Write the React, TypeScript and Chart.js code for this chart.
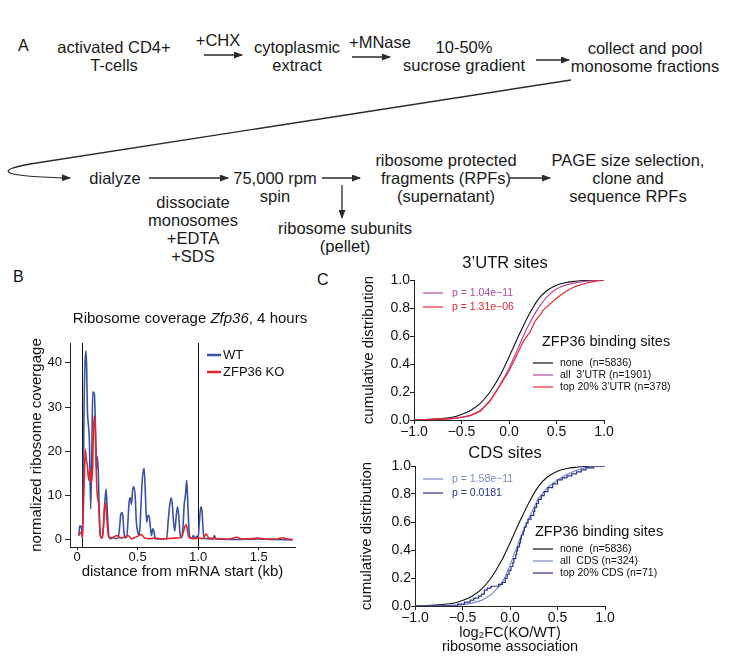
import React, { useEffect, useRef } from "react";
import { Chart, registerables } from "chart.js";

Chart.register(...registerables);

const FONT = '"Liberation Sans", Arial, Helvetica, sans-serif';
Chart.defaults.font.family = FONT;
Chart.defaults.color = "#111";

// ---------------- Panel B data ----------------
const wtKb = [0.015, 0.022, 0.03, 0.038, 0.045, 0.05, 0.058, 0.066, 0.074, 0.08, 0.085, 0.094, 0.102, 0.113, 0.122, 0.13, 0.143, 0.155, 0.162, 0.169, 0.177, 0.185, 0.19, 0.2, 0.208, 0.218, 0.231, 0.24, 0.251, 0.262, 0.275, 0.3, 0.32, 0.34, 0.352, 0.36, 0.369, 0.378, 0.387, 0.397, 0.41, 0.42, 0.43, 0.44, 0.45, 0.458, 0.468, 0.48, 0.49, 0.5, 0.51, 0.52, 0.53, 0.54, 0.554, 0.565, 0.575, 0.585, 0.595, 0.605, 0.615, 0.625, 0.635, 0.645, 0.66, 0.7, 0.74, 0.752, 0.762, 0.777, 0.787, 0.797, 0.807, 0.818, 0.83, 0.84, 0.85, 0.865, 0.875, 0.885, 0.895, 0.906, 0.915, 0.925, 0.935, 0.95, 0.96, 0.975, 0.99, 1.0, 1.01, 1.022, 1.032, 1.042, 1.055, 1.1, 1.125, 1.135, 1.145, 1.3, 1.5, 1.6, 1.78];
const wtCov = [1, 3, 3.2, 2.5, 0.5, 8, 30, 40, 42.7, 38.6, 30, 26, 22.6, 7, 20, 33.5, 33, 22.6, 16, 18.8, 14, 5, 1.5, 0.5, 0.5, 3, 9, 11.5, 6, 1, 0.3, 0.5, 0.3, 0.5, 3, 5.5, 6.2, 5.5, 2, 0.5, 0.5, 4, 8.5, 9.5, 8, 11, 12, 10, 4, 2, 1, 3, 9, 14, 16.2, 10, 4, 5.5, 5.5, 3, 1, 2.5, 2, 0.3, 0.2, 0.2, 0.3, 4, 7, 9.5, 8, 4, 2, 5, 7.5, 5.5, 1.5, 0.5, 3, 8, 10, 13.5, 8, 2, 0.5, 0.5, 1, 0.4, 0.8, 0.5, 4, 7.5, 6.5, 2, 0.3, 0.2, 0.2, 1, 0.2, 0.1, 0.2, 0.1, 0];
const koKb = [0.015, 0.025, 0.035, 0.045, 0.05, 0.058, 0.069, 0.077, 0.085, 0.096, 0.107, 0.118, 0.129, 0.14, 0.148, 0.16, 0.168, 0.179, 0.19, 0.2, 0.21, 0.218, 0.231, 0.24, 0.251, 0.26, 0.28, 0.3, 0.33, 0.36, 0.4, 0.42, 0.45, 0.5, 0.53, 0.56, 0.6, 0.65, 0.7, 0.75, 0.8, 0.85, 0.87, 0.89, 0.9, 0.91, 0.92, 0.95, 1.0, 1.04, 1.065, 1.09, 1.15, 1.25, 1.32, 1.36, 1.45, 1.49, 1.55, 1.65, 1.7, 1.74, 1.78];
const koCov = [1.0, 1.5, 1.8, 0.5, 5, 12, 20.5, 18, 17, 13.5, 16, 13, 16.5, 28, 27, 14.5, 10, 8, 2, 0.5, 0.5, 3, 8.5, 7, 3, 0.8, 0.5, 0.6, 1.0, 0.4, 0.7, 1.0, 0.3, 0.8, 1.2, 0.4, 0.3, 0.4, 0.2, 0.3, 0.4, 0.5, 1.0, 3.0, 3.5, 2.5, 0.8, 0.3, 0.4, 0.3, 1.3, 0.4, 0.3, 0.2, 0.6, 0.2, 0.3, 0.4, 0.2, 0.2, 0.5, 0.2, 0.1];
const bYTicks = [0, 10, 20, 30, 40];
const bXTicks = [0, 0.5, 1.0, 1.5];
const bXLabels = ["0", "0.5", "1.0", "1.5"];
const bMarkers = [0.04, 1.0];
const bSeriesNames = ["WT", "ZFP36 KO"];

// ---------------- Panel C data ----------------
const noneX = [-1.0, -0.8, -0.6, -0.5, -0.4, -0.3, -0.2, -0.1, 0.0, 0.1, 0.2, 0.3, 0.4, 0.5, 0.6, 0.7, 0.8, 1.0];
const noneY = [0.0, 0.007, 0.02, 0.04, 0.07, 0.12, 0.2, 0.31, 0.45, 0.6, 0.74, 0.855, 0.925, 0.963, 0.982, 0.991, 0.996, 1.0];
const utrAllX = [-1.0, -0.8, -0.6, -0.5, -0.4, -0.3, -0.2, -0.1, 0.0, 0.1, 0.2, 0.3, 0.4, 0.5, 0.6, 0.7, 0.8, 1.0];
const utrAllY = [0.0, 0.004, 0.01, 0.02, 0.035, 0.07, 0.14, 0.245, 0.37, 0.52, 0.67, 0.79, 0.88, 0.935, 0.965, 0.98, 0.99, 1.0];
const utrTopX = [-1.0, -0.8, -0.6, -0.5, -0.4, -0.3, -0.2, -0.1, 0.0, 0.05, 0.1, 0.15, 0.2, 0.22, 0.25, 0.27, 0.3, 0.33, 0.36, 0.4, 0.5, 0.6, 0.7, 0.8, 0.9, 1.0];
const utrTopY = [0.0, 0.004, 0.01, 0.018, 0.033, 0.065, 0.135, 0.24, 0.35, 0.42, 0.49, 0.56, 0.61, 0.625, 0.67, 0.70, 0.73, 0.75, 0.785, 0.81, 0.87, 0.92, 0.955, 0.975, 0.99, 1.0];
const cdsAllX = [-1.0, -0.7, -0.5, -0.4, -0.3, -0.2, -0.1, -0.05, 0.0, 0.05, 0.1, 0.15, 0.2, 0.25, 0.3, 0.35, 0.4, 0.5, 0.6, 0.7, 0.8, 0.9, 1.0];
const cdsAllY = [0.0, 0.002, 0.01, 0.02, 0.04, 0.08, 0.15, 0.21, 0.29, 0.38, 0.47, 0.55, 0.63, 0.70, 0.77, 0.81, 0.85, 0.9, 0.94, 0.97, 0.99, 0.997, 1.0];
const cdsTopX = [-1.0, -0.55, -0.48, -0.42, -0.38, -0.33, -0.3, -0.27, -0.24, -0.2, -0.12, -0.08, -0.05, -0.03, -0.01, 0.01, 0.03, 0.04, 0.06, 0.07, 0.08, 0.1, 0.11, 0.12, 0.14, 0.15, 0.17, 0.19, 0.22, 0.25, 0.26, 0.28, 0.3, 0.33, 0.36, 0.4, 0.45, 0.5, 0.55, 0.6, 0.65, 0.7, 0.75, 0.8, 0.88, 1.0];
const cdsTopY = [0, 0.014, 0.028, 0.042, 0.056, 0.07, 0.085, 0.113, 0.127, 0.141, 0.155, 0.169, 0.197, 0.225, 0.254, 0.282, 0.31, 0.338, 0.366, 0.394, 0.423, 0.451, 0.479, 0.507, 0.535, 0.563, 0.592, 0.62, 0.648, 0.676, 0.704, 0.732, 0.761, 0.789, 0.817, 0.845, 0.873, 0.901, 0.915, 0.93, 0.944, 0.958, 0.972, 0.986, 1.0, 1.0];
const cXTicks = [-1, -0.5, 0, 0.5, 1];
const cXLabels = ["\u22121.0", "\u22120.5", "0.0", "0.5", "1.0"];
const cYTicks = [0, 0.2, 0.4, 0.6, 0.8, 1.0];
const cYLabels = ["0.0", "0.2", "0.4", "0.6", "0.8", "1.0"];
const utrPvals = ["p = 1.04e\u221211", "p = 1.31e\u221206"];
const cdsPvals = ["p = 1.58e\u221211", "p = 0.0181"];
const utrLegend = ["none  (n=5836)", "all  3\u2019UTR (n=1901)", "top 20% 3\u2019UTR (n=378)"];
const cdsLegend = ["none  (n=5836)", "all  CDS (n=324)", "top 20% CDS (n=71)"];

// ---------------- colours ----------------
const WT_BLUE = "#3a52a6";
const KO_RED = "#e2262d";
const BLACK = "#111111";
const UTR_ALL = "#b24a9c";
const UTR_TOP = "#e8252e";
const CDS_ALL = "#7887d4";
const CDS_TOP = "#28338b";

const pts = (xs: number[], ys: number[]) => xs.map((x, i) => ({ x, y: ys[i] }));

const overlayPlugin = {
  id: "overlay",
  beforeDatasetsDraw(chart: any, _a: any, opts: any) {
    const ctx = chart.ctx;
    const { top, bottom } = chart.chartArea;
    ctx.save();
    (opts.vlines || []).forEach((v: number) => {
      const x = Math.round(chart.scales.x.getPixelForValue(v)) + 0.5;
      ctx.strokeStyle = "#111";
      ctx.lineWidth = 1;
      ctx.beginPath();
      ctx.moveTo(x, top);
      ctx.lineTo(x, bottom);
      ctx.stroke();
    });
    ctx.restore();
  },
  afterDatasetsDraw(chart: any, _a: any, opts: any) {
    const ctx = chart.ctx;
    ctx.save();
    (opts.items || []).forEach((it: any) => {
      if (it.type === "line") {
        ctx.strokeStyle = it.color;
        ctx.lineWidth = it.width || 1;
        ctx.beginPath();
        ctx.moveTo(it.x1, it.y);
        ctx.lineTo(it.x2, it.y);
        ctx.stroke();
      } else if (it.type === "text") {
        ctx.font = it.font;
        ctx.fillStyle = it.color || "#111";
        ctx.textAlign = it.align || "left";
        ctx.textBaseline = "middle";
        ctx.fillText(it.text, it.x, it.y);
      } else if (it.type === "rich") {
        let total = 0;
        it.parts.forEach((p: any) => {
          ctx.font = p.font;
          total += ctx.measureText(p.text).width;
        });
        let x = it.x - total / 2;
        ctx.textAlign = "left";
        ctx.textBaseline = "middle";
        ctx.fillStyle = it.color || "#111";
        it.parts.forEach((p: any) => {
          ctx.font = p.font;
          ctx.fillText(p.text, x, it.y);
          x += ctx.measureText(p.text).width;
        });
      }
    });
    ctx.restore();
  },
};

function axisCommon(tickLength: number, padding: number, fontSize: number) {
  return {
    grid: { display: true, drawOnChartArea: false, drawTicks: true, tickLength, color: "#222", tickColor: "#222", lineWidth: 1 },
    border: { display: true, color: "#222", width: 1 },
    ticks: { autoSkip: false, maxRotation: 0, padding, font: { size: fontSize }, color: "#111" },
  };
}

function bConfig(): any {
  const xc = axisCommon(3, 0, 13);
  const yc = axisCommon(5, 3, 13);
  return {
    type: "line",
    data: {
      datasets: [
        { label: bSeriesNames[1], data: pts(koKb, koCov), borderColor: KO_RED, borderWidth: 1.6, pointRadius: 0, cubicInterpolationMode: "monotone", order: 1 },
        { label: bSeriesNames[0], data: pts(wtKb, wtCov), borderColor: WT_BLUE, borderWidth: 1.6, pointRadius: 0, cubicInterpolationMode: "monotone", order: 2 },
      ],
    },
    options: {
      responsive: false,
      animation: false,
      events: [],
      layout: { padding: { left: 24, top: 53, right: 15, bottom: 5 } },
      plugins: {
        legend: { display: false },
        tooltip: { enabled: false },
        overlay: {
          vlines: bMarkers,
          items: [
            { type: "rich", x: 190, y: 29, parts: [
              { text: "Ribosome coverage ", font: `15px ${FONT}` },
              { text: "Zfp36", font: `italic 15px ${FONT}` },
              { text: ", 4 hours", font: `15px ${FONT}` },
            ] },
            { type: "line", x1: 207, x2: 221, y: 65, color: WT_BLUE, width: 2.5 },
            { type: "text", x: 223, y: 65, text: bSeriesNames[0], font: `13px ${FONT}` },
            { type: "line", x1: 207, x2: 221, y: 82, color: KO_RED, width: 2.5 },
            { type: "text", x: 223, y: 82, text: bSeriesNames[1], font: `13px ${FONT}` },
          ],
        },
      },
      scales: {
        x: {
          type: "linear", min: -0.058, max: 1.8,
          afterBuildTicks: (s: any) => { s.ticks = bXTicks.map((v) => ({ value: v })); },
          afterFit: (s: any) => { s.height = 38; },
          ...xc,
          ticks: { ...xc.ticks, callback: (_v: any, i: number) => bXLabels[i] },
          title: { display: true, text: "distance from mRNA start (kb)", font: { size: 15 }, color: "#111", padding: { top: 0, bottom: 4 } },
        },
        y: {
          type: "linear", min: -1.6, max: 44.5,
          afterBuildTicks: (s: any) => { s.ticks = bYTicks.map((v) => ({ value: v })); },
          afterFit: (s: any) => { s.width = 46; },
          ...yc,
          ticks: { ...yc.ticks, callback: (v: any) => String(v) },
          title: { display: true, text: "normalized ribosome covergage", font: { size: 15 }, color: "#111", padding: { top: 4, bottom: 0 } },
        },
      },
    },
    plugins: [overlayPlugin],
  };
}

function cConfig(kind: "utr" | "cds"): any {
  const isUtr = kind === "utr";
  const xc = axisCommon(4, 0, 14);
  const yc = axisCommon(4, 0, 14);
  const allColor = isUtr ? UTR_ALL : CDS_ALL;
  const topColor = isUtr ? UTR_TOP : CDS_TOP;
  const pv = isUtr ? utrPvals : cdsPvals;
  const lg = isUtr ? utrLegend : cdsLegend;
  const title = isUtr ? "3\u2019UTR sites" : "CDS sites";
  const titleY = isUtr ? 23 : 13;
  const pY = isUtr ? [53, 67] : [39, 53];
  const headX = isUtr ? 222 : 215;
  const headY = isUtr ? 102 : 92;
  const entY = isUtr ? [123, 135, 147] : [109, 121, 133];
  const colors = [BLACK, allColor, topColor];
  const items: any[] = [
    { type: "text", x: 185, y: titleY, text: title, font: `16.5px ${FONT}`, align: "center" },
    { type: "line", x1: 103, x2: 123, y: pY[0], color: allColor, width: 1.2 },
    { type: "text", x: 132, y: pY[0], text: pv[0], font: `10.5px ${FONT}`, color: allColor },
    { type: "line", x1: 103, x2: 123, y: pY[1], color: topColor, width: 1.2 },
    { type: "text", x: 132, y: pY[1], text: pv[1], font: `10.5px ${FONT}`, color: topColor },
    { type: "text", x: headX, y: headY, text: "ZFP36 binding sites", font: `14.5px ${FONT}` },
  ];
  lg.forEach((t, i) => {
    items.push({ type: "line", x1: 213, x2: 233, y: entY[i], color: colors[i], width: 1.2 });
    items.push({ type: "text", x: 240, y: entY[i], text: t, font: `10.5px ${FONT}` });
  });
  const allData = isUtr ? pts(utrAllX, utrAllY) : pts(cdsAllX, cdsAllY);
  const topData = isUtr ? pts(utrTopX, utrTopY) : pts(cdsTopX, cdsTopY);
  return {
    type: "line",
    data: {
      datasets: [
        { label: lg[2], data: topData, borderColor: topColor, borderWidth: 1.2, pointRadius: 0, stepped: isUtr ? false : "before", tension: 0, order: 1 },
        { label: lg[1], data: allData, borderColor: allColor, borderWidth: 1.2, pointRadius: 0, cubicInterpolationMode: isUtr ? "monotone" : "default", tension: 0, order: 2 },
        { label: lg[0], data: pts(noneX, noneY), borderColor: BLACK, borderWidth: 1.1, pointRadius: 0, cubicInterpolationMode: "monotone", order: 3 },
      ],
    },
    options: {
      responsive: false,
      animation: false,
      events: [],
      layout: { padding: isUtr ? { left: 36, top: 40, right: 133, bottom: 0 } : { left: 34, top: 26, right: 132, bottom: 0 } },
      plugins: { legend: { display: false }, tooltip: { enabled: false }, overlay: { items } },
      scales: {
        x: {
          type: "linear", min: -1, max: 1,
          afterBuildTicks: (s: any) => { s.ticks = cXTicks.map((v) => ({ value: v })); },
          afterFit: (s: any) => { s.height = isUtr ? 25 : 65; },
          ...xc,
          ticks: { ...xc.ticks, callback: (_v: any, i: number) => cXLabels[i] },
          title: isUtr
            ? { display: false }
            : { display: true, text: ["log\u2082FC(KO/WT)", "ribosome association"], font: { size: 14.5, lineHeight: "14px" }, color: "#111", padding: { top: 0, bottom: 17 } },
        },
        y: {
          type: "linear", min: 0, max: 1,
          afterBuildTicks: (s: any) => { s.ticks = cYTicks.map((v) => ({ value: v })); },
          afterFit: (s: any) => { s.width = isUtr ? 58 : 61; },
          ...yc,
          ticks: { ...yc.ticks, callback: (_v: any, i: number) => cYLabels[i] },
          title: { display: true, text: "cumulative distribution", font: { size: 15 }, color: "#111", padding: { top: 4, bottom: 0 } },
        },
      },
    },
    plugins: [overlayPlugin],
  };
}

function ChartCanvas(props: { left: number; top: number; width: number; height: number; make: () => any }) {
  const ref = useRef<HTMLCanvasElement>(null);
  useEffect(() => {
    const chart = new Chart(ref.current as HTMLCanvasElement, props.make());
    return () => chart.destroy();
  }, []);
  return (
    <canvas
      ref={ref}
      width={props.width}
      height={props.height}
      style={{ position: "absolute", left: props.left, top: props.top, width: props.width, height: props.height }}
    />
  );
}

// ---------------- flowchart (panel A) ----------------
const flowSteps = [
  { lines: ["activated CD4+", "T-cells"], x: 114, y: 47 },
  { lines: ["+CHX"], x: 218, y: 40 },
  { lines: ["cytoplasmic", "extract"], x: 297, y: 47 },
  { lines: ["+MNase"], x: 380, y: 42 },
  { lines: ["10-50%", "sucrose gradient"], x: 464, y: 47 },
  { lines: ["collect and pool", "monosome fractions"], x: 645, y: 48 },
  { lines: ["dialyze"], x: 115, y: 178 },
  { lines: ["dissociate", "monosomes", "+EDTA", "+SDS"], x: 193, y: 202 },
  { lines: ["75,000 rpm", "spin"], x: 275, y: 178 },
  { lines: ["ribosome subunits", "(pellet)"], x: 345, y: 228 },
  { lines: ["ribosome protected", "fragments (RPFs)", "(supernatant)"], x: 446, y: 160 },
  { lines: ["PAGE size selection,", "clone and", "sequence RPFs"], x: 628, y: 160 },
];

function FlowText(p: { x: number; y: number; lines: string[] }) {
  const lh = 18;
  return (
    <div
      style={{
        position: "absolute", left: p.x, top: p.y - lh / 2, transform: "translateX(-50%)",
        textAlign: "center", whiteSpace: "nowrap", fontSize: 16.5, lineHeight: `${lh}px`, color: "#1a1a1a",
      }}
    >
      {p.lines.map((l, i) => (
        <div key={i}>{l}</div>
      ))}
    </div>
  );
}

function PanelLabel(p: { x: number; y: number; text: string }) {
  return (
    <div style={{ position: "absolute", left: p.x, top: p.y - 9, fontSize: 16, lineHeight: "18px", color: "#111" }}>{p.text}</div>
  );
}

function FlowArrows() {
  const st = { stroke: "#2a2a2a", strokeWidth: 1.3, fill: "none" } as any;
  return (
    <svg width={737} height={280} style={{ position: "absolute", left: 0, top: 0 }}>
      <defs>
        <marker id="ah" markerWidth="9" markerHeight="7" refX="8" refY="3.5" orient="auto" markerUnits="userSpaceOnUse">
          <path d="M0,0 L9,3.5 L0,7 z" fill="#2a2a2a" />
        </marker>
      </defs>
      <line x1={204} y1={55} x2={242} y2={55} {...st} markerEnd="url(#ah)" />
      <line x1={352} y1={57} x2={390} y2={57} {...st} markerEnd="url(#ah)" />
      <line x1={536} y1={60} x2={569} y2={60} {...st} markerEnd="url(#ah)" />
      <path d="M 571 80 L 30 164 Q 2 169 10 173 Q 20 177 70 178" {...st} markerEnd="url(#ah)" />
      <line x1={149} y1={178} x2={228} y2={178} {...st} markerEnd="url(#ah)" />
      <line x1={322} y1={178} x2={360} y2={178} {...st} markerEnd="url(#ah)" />
      <line x1={342} y1={185} x2={342} y2={218} {...st} markerEnd="url(#ah)" />
      <line x1={510} y1={178} x2={550} y2={178} {...st} markerEnd="url(#ah)" />
    </svg>
  );
}

export default function App() {
  return (
    <div
      style={{
        position: "absolute", left: 0, top: 0, width: 737, height: 671, overflow: "hidden",
        background: "#fff", fontFamily: FONT, color: "#111",
      }}
    >
      <FlowArrows />
      {flowSteps.map((s, i) => (
        <FlowText key={i} x={s.x} y={s.y} lines={s.lines} />
      ))}
      <PanelLabel x={18} y={46} text="A" />
      <PanelLabel x={13} y={277} text="B" />
      <PanelLabel x={317} y={280} text="C" />
      <ChartCanvas left={0} top={290} width={310} height={300} make={bConfig} />
      <ChartCanvas left={320} top={240} width={417} height={205} make={() => cConfig("utr")} />
      <ChartCanvas left={320} top={440} width={417} height={231} make={() => cConfig("cds")} />
    </div>
  );
}
